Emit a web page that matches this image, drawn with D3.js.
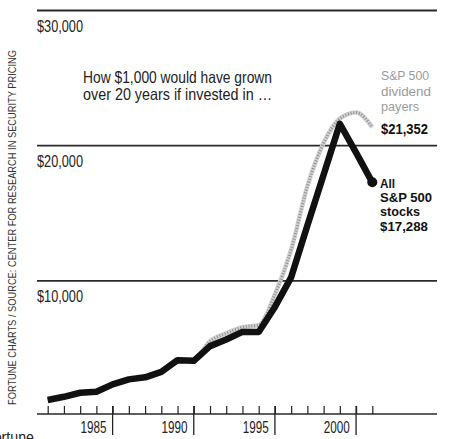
<!DOCTYPE html>
<html>
<head>
<meta charset="utf-8">
<script src="https://cdn.jsdelivr.net/npm/d3@7"></script>
<style>
  html, body { margin: 0; padding: 0; background: #fff; }
  svg { display: block; }
  text { font-family: "Liberation Sans", Arial, sans-serif; }
</style>
</head>
<body>
<svg id="chart" width="450" height="439"></svg>
<script>
// Growth of $1,000 invested at the end of 1982
const years = [1982, 1983, 1984, 1985, 1986, 1987, 1988, 1989, 1990, 1991, 1992,
               1993, 1994, 1995, 1996, 1997, 1998, 1999, 2000, 2001, 2002];
const allStocks = [1180, 1420, 1720, 1790, 2340, 2710, 2860, 3270, 4130, 4080, 5170,
                   5660, 6220, 6220, 8070, 10260, 14100, 17840, 21620, 19480, 17288];
const dividendPayers = [1180, 1420, 1720, 1790, 2340, 2710, 2860, 3270, 4130, 4150, 5530,
                        6120, 6570, 6720, 9000, 12300, 17000, 20200, 22000, 22450, 21352];
const gridValues = [10000, 20000, 30000];
const yearLabels = [1985, 1990, 1995, 2000];
const dividerYears = [1986, 1991, 1996, 2001];

const svg = d3.select("#chart");
const x = d3.scaleLinear().domain([1982, 2002]).range([47.7, 372.3]);
const y = d3.scaleLinear().domain([0, 30000]).range([416, 10.5]);
const money = d3.format("$,");

// condensed lettering: squeeze each label to a set width
function label(parent, str, px, py, size, width, opts = {}) {
  const t = parent.append("text")
    .attr("x", px).attr("y", py)
    .attr("font-size", size)
    .attr("fill", opts.fill || "#222")
    .attr("font-weight", opts.bold ? "bold" : null)
    .attr("text-anchor", opts.anchor || "start")
    .text(str);
  if (width) t.attr("textLength", width).attr("lengthAdjust", "spacingAndGlyphs");
  return t;
}

// horizontal rules with their value labels
const grid = svg.append("g");
grid.selectAll("line").data(gridValues).join("line")
  .attr("x1", 37).attr("x2", 437)
  .attr("y1", d => y(d)).attr("y2", d => y(d))
  .attr("stroke", "#2a2a2a").attr("stroke-width", d => d === 30000 ? 2 : 1.7);
gridValues.forEach(v => label(grid, money(v), 37, y(v) + 21.5, 16, 46));

// year axis: short ticks up from the base line
const axisY = 414;
svg.append("g")
  .attr("transform", `translate(0,${axisY})`)
  .call(d3.axisBottom(x).tickValues(years).tickSize(-8).tickFormat(""))
  .call(g => g.select(".domain").remove())
  .call(g => g.selectAll(".tick line").attr("stroke", "#222").attr("stroke-width", 1.2));
svg.append("line")
  .attr("x1", 37).attr("x2", 437).attr("y1", axisY).attr("y2", axisY)
  .attr("stroke", "#2a2a2a").attr("stroke-width", 1.6);
svg.append("g").selectAll("line").data(dividerYears).join("line")
  .attr("x1", d => x(d)).attr("x2", d => x(d))
  .attr("y1", axisY - 8).attr("y2", 435)
  .attr("stroke", "#222").attr("stroke-width", 1.3);
const yearG = svg.append("g");
yearLabels.forEach(yr => label(yearG, String(yr), x(yr) - 3, 433, 16, 26, { anchor: "middle" }));

// dividend payers: stippled grey band
const grayLine = d3.line().x((d, i) => x(years[i])).y(d => y(d)).curve(d3.curveMonotoneX);
svg.append("path").datum(dividendPayers)
  .attr("d", grayLine).attr("fill", "none")
  .attr("stroke", "#d2d2d2").attr("stroke-width", 4.5);
svg.append("path").datum(dividendPayers)
  .attr("d", grayLine).attr("fill", "none")
  .attr("stroke", "#909090").attr("stroke-width", 3).attr("stroke-dasharray", "1 1.8");

// all S&P 500 stocks: heavy black line ending in a dot
const blackLine = d3.line().x((d, i) => x(years[i])).y(d => y(d));
svg.append("path").datum(allStocks)
  .attr("d", blackLine).attr("fill", "none")
  .attr("stroke", "#111").attr("stroke-width", 6.5)
  .attr("stroke-linejoin", "round");
svg.append("circle")
  .attr("cx", x(years[years.length - 1])).attr("cy", y(allStocks[allStocks.length - 1]))
  .attr("r", 5).attr("fill", "#111");

// headline
label(svg, "How $1,000 would have grown", 83, 83, 16.5, 189);
label(svg, "over 20 years if invested in \u2026", 83, 100, 16.5, 189);

// series labels
const gl = svg.append("g");
label(gl, "S&P 500", 381, 80, 13.5, 48, { fill: "#9a9a9a" });
label(gl, "dividend", 381, 95.5, 13.5, 50, { fill: "#9a9a9a" });
label(gl, "payers", 381, 111, 13.5, 38, { fill: "#9a9a9a" });
label(gl, money(dividendPayers[dividendPayers.length - 1]), 381, 134, 15, 47, { fill: "#111", bold: true });

const bl = svg.append("g");
label(bl, "All", 380, 188, 13, 15, { fill: "#111", bold: true });
label(bl, "S&P 500", 380, 202, 13, 52, { fill: "#111", bold: true });
label(bl, "stocks", 380, 216, 13, 40, { fill: "#111", bold: true });
label(bl, money(allStocks[allStocks.length - 1]), 380, 230.5, 13, 48, { fill: "#111", bold: true });

// credit line along the left edge
svg.append("text")
  .attr("transform", "translate(16,405) rotate(-90)")
  .attr("font-size", 11.5).attr("fill", "#333")
  .attr("textLength", 355).attr("lengthAdjust", "spacingAndGlyphs")
  .text("FORTUNE CHARTS / SOURCE: CENTER FOR RESEARCH IN SECURITY PRICING");

// magazine name, running off the lower edge
label(svg, "Fortune", 34, 443, 16, 49, { anchor: "end" });
</script>
</body>
</html>
